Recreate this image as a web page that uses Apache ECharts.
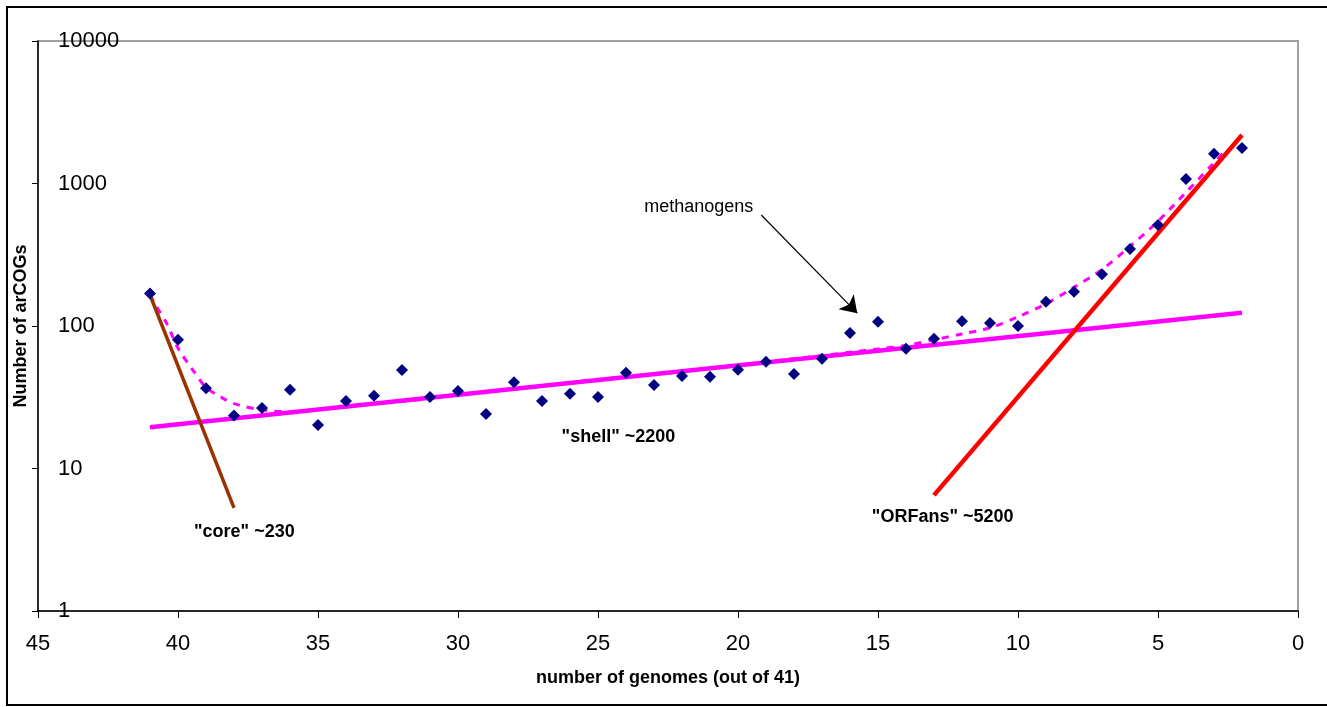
<!DOCTYPE html>
<html>
<head>
<meta charset="utf-8">
<script src="https://cdn.jsdelivr.net/npm/echarts@6/dist/echarts.min.js"></script>
<style>
html,body{margin:0;padding:0;background:#fff;}
#c{width:1327px;height:707px;}
</style>
</head>
<body>
<div id="c"></div>
<script>
// Observed arCOG counts by number of genomes
var genomes = [41,40,39,38,37,36,35,34,33,32,31,30,29,28,27,26,25,24,23,22,21,20,19,18,17,16,15,14,13,12,11,10,9,8,7,6,5,4,3,2];
var arcogs  = [169,80,36.5,23.5,26.6,35.7,20.2,29.8,32.4,49.1,31.8,35,24.1,40.3,29.8,33.5,31.8,47,38.5,44.6,44.1,49.4,56.2,46,59,89.3,107,69.3,81.5,108,105,100,148,174,231,347,512,1076,1618,1775];

// Trend lines
var coreX = [41,38];
var coreY = [165,5.3];
var shellX = [41,25,2];
var shellY = [19.5,41.8,124];
var orfX = [13,2];
var orfY = [6.5,2190];
var polyX = [41,40.8,40.4,40,39.5,39,38.5,38,37,36,35,34,33,32,31,30,29,28,27,26,25,24,23,22,21,20,19,18,17,16,15,14,13,12,11,10,9,8,7,6,5,4,3,2.7];
var polyY = [165,140,104,70,50,37,32,28.5,25.8,25,26,27,28.5,29.5,31,33,34.5,36,38,40,42,44,46,48,50.5,53,56,59,62,65.5,69,73,80,88,97,116,143,187,249,362,543,867,1400,1620];

// Tick labels / axis settings
var xMin = 0, xMax = 45, xStep = 5;
var yMin = 1, yMax = 10000;
var xTitle = 'number of genomes (out of 41)';
var yTitle = 'Number of arCOGs';

// Annotations (data coordinates)
var notes = [
  {text:'methanogens', x:21.4, y:684, bold:false},
  {text:'"shell" ~2200', x:24.27, y:16.6, bold:true},
  {text:'"core" ~230', x:37.63, y:3.58, bold:true},
  {text:'"ORFans" ~5200', x:12.69, y:4.57, bold:true}
];
var arrowFrom = [19.17, 601];
var arrowTo = [15.74, 123];

function zip(a,b){ return a.map(function(v,i){ return [v,b[i]]; }); }

var FONT = 'Liberation Sans, Arial, sans-serif';
var chart = echarts.init(document.getElementById('c'), null, {renderer:'canvas'});
chart.setOption({
  animation:false,
  backgroundColor:'#fff',
  textStyle:{fontFamily:FONT},
  graphic:[{
    type:'rect', z:100, silent:true,
    shape:{x:7,y:7,width:1330,height:698},
    style:{fill:'none', stroke:'#000', lineWidth:2}
  }],
  grid:{left:38, right:29, top:41, bottom:96, show:true, borderColor:'#a0a0a0', borderWidth:2, backgroundColor:'transparent'},
  xAxis:{
    type:'value', inverse:true, min:xMin, max:xMax, interval:xStep,
    name:xTitle, nameLocation:'middle', nameGap:58,
    nameTextStyle:{fontFamily:FONT, fontSize:18, fontWeight:'bold', color:'#000'},
    axisLine:{show:true, onZero:false, lineStyle:{color:'#000', width:1.5}},
    axisTick:{show:true, length:7, lineStyle:{color:'#000'}},
    axisLabel:{fontFamily:FONT, fontSize:22, color:'#000', margin:22},
    splitLine:{show:false}
  },
  yAxis:{
    type:'log', logBase:10, min:yMin, max:yMax,
    name:yTitle, nameLocation:'middle', nameGap:5, nameRotate:90,
    nameTextStyle:{fontFamily:FONT, fontSize:18, fontWeight:'bold', color:'#000'},
    axisLine:{show:true, onZero:false, lineStyle:{color:'#000', width:1.5}},
    axisTick:{show:true, length:6, lineStyle:{color:'#000'}},
    axisLabel:{inside:true, fontFamily:FONT, fontSize:22, color:'#000', margin:20,
      formatter:function(v){ return String(Math.round(v)); }},
    splitLine:{show:false}
  },
  series:[
    {type:'line', name:'poly', data:zip(polyX,polyY), smooth:0.3, showSymbol:false, symbol:'none',
     lineStyle:{color:'#ff00ff', width:3, type:[7,7]}, z:2},
    {type:'line', name:'shell', data:zip(shellX,shellY), showSymbol:false, symbol:'none',
     lineStyle:{color:'#ff00ff', width:4.5}, z:3},
    {type:'line', name:'core', data:zip(coreX,coreY), showSymbol:false, symbol:'none',
     lineStyle:{color:'#993300', width:3.5}, z:3},
    {type:'line', name:'orfans', data:zip(orfX,orfY), showSymbol:false, symbol:'none',
     lineStyle:{color:'#ff0000', width:4.5}, z:3},
    {type:'scatter', name:'arCOGs', data:zip(genomes,arcogs), symbol:'diamond', symbolSize:12,
     itemStyle:{color:'#000080', opacity:1}, z:5,
     markLine:{silent:true, symbol:['none','arrow'], symbolSize:16,
       label:{show:false}, itemStyle:{color:'#000', opacity:1},
       lineStyle:{color:'#000', width:1.2, type:'solid', opacity:1},
       data:[[{coord:arrowFrom},{coord:arrowTo}]]}},
    {type:'scatter', name:'notes', symbolSize:0, z:6, silent:true,
     itemStyle:{opacity:1},
     data:notes.map(function(n){ return {value:[n.x,n.y], name:n.text,
       label:{show:true, position:'inside', formatter:n.text, fontFamily:FONT, fontSize:18,
         fontWeight:n.bold?'bold':'normal', color:'#000', opacity:1}}; })}
  ]
});
</script>
</body>
</html>
